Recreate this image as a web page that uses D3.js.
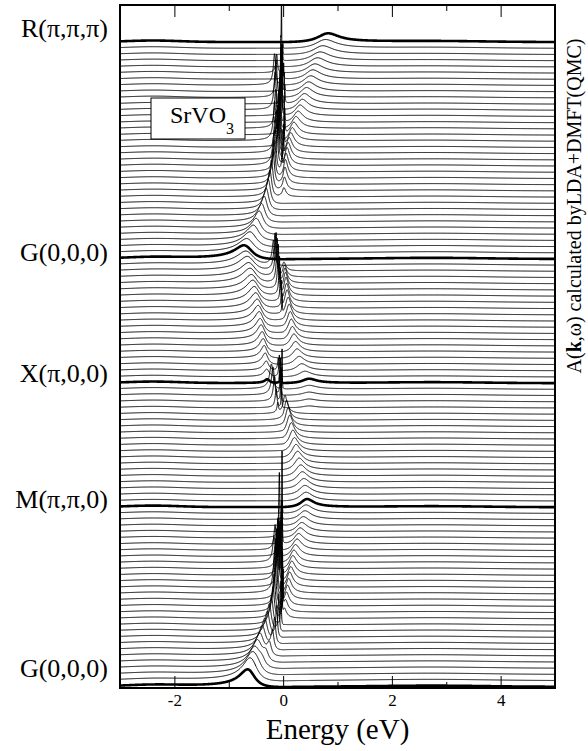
<!DOCTYPE html>
<html>
<head>
<meta charset="utf-8">
<script src="https://cdn.jsdelivr.net/npm/d3@7"></script>
<style>
  body { margin: 0; background: #fff; }
  svg text { font-family: "Liberation Serif", "Times New Roman", serif; fill: #000; }
</style>
</head>
<body>
<svg width="588" height="751"></svg>
<script>
// k-path labels, bottom to top, and the curve index they sit on
const kLabels = ["G(0,0,0)", "M(\u03c0,\u03c0,0)", "X(\u03c0,0,0)", "G(0,0,0)", "R(\u03c0,\u03c0,\u03c0)"];
const kIndex = [0, 29, 49, 69, 104];
const nCurves = 105;

const xTicks = [-2, 0, 2, 4];
const xMinor = [-1, 1, 3];

// occupied quasiparticle peak: energy (eV) and height (in units of curve spacing)
const occE = [
  -0.70, -0.66, -0.61, -0.56, -0.50, -0.45, -0.40, -0.35, -0.30, -0.26,   // 0-9   G -> M
  -0.22, -0.19, -0.17, -0.15, -0.13, -0.12, -0.11, -0.10, -0.09, -0.08,   // 10-19
  -0.06, -0.05, -0.045, -0.02, -0.07, -0.03, -0.025, -0.02, -0.015, 0,    // 20-29 (M)
  0, 0, 0, 0, 0, 0, 0, 0, 0, 0,                                           // 30-39 M -> X
  0, 0, 0, 0, -0.10, -0.13, -0.16, -0.19, -0.22, -0.30,                   // 40-49 (X)
  -0.31, -0.32, -0.34, -0.36, -0.38, -0.40, -0.42, -0.44, -0.46, -0.48,   // 50-59 X -> G
  -0.50, -0.53, -0.56, -0.59, -0.62, -0.65, -0.68, -0.71, -0.74, -0.78,   // 60-69 (G)
  -0.72, -0.65, -0.58, -0.52, -0.46, -0.41, -0.36, -0.32, -0.28, -0.25,   // 70-79 G -> R
  -0.22, -0.19, -0.17, -0.15, -0.12, -0.10, -0.09, -0.08, -0.07, -0.06,   // 80-89
  -0.055, -0.05, -0.045, -0.04, -0.035, -0.03, -0.03, -0.025, -0.02, -0.02, // 90-99
  -0.015, -0.01, -0.01, -0.005, 0                                         // 100-104 (R)
];
const occH = [
  2.7, 2.8, 2.9, 3.0, 3.2, 3.4, 3.6, 3.8, 4.0, 4.3,
  4.6, 5.0, 6.0, 7.0, 8.0, 9.0, 9.0, 9.0, 9.0, 7.5,
  6.5, 5.5, 4.5, 15, 10.5, 5.0, 4.0, 3.0, 2.0, 0,
  0, 0, 0, 0, 0, 0, 0, 0, 0, 0,
  0, 0, 0, 0, 1.5, 3.0, 4.0, 4.5, 4.0, 0.6,
  1.2, 1.5, 1.8, 2.0, 2.1, 2.2, 2.3, 2.3, 2.4, 2.4,
  2.4, 2.4, 2.4, 2.4, 2.3, 2.3, 2.2, 2.2, 2.1, 2.1,
  2.2, 2.3, 2.4, 2.5, 2.7, 2.9, 3.1, 3.4, 3.8, 4.2,
  4.8, 5.5, 6.0, 7.0, 8.0, 8.5, 9.0, 9.0, 9.0, 9.0,
  9.0, 9.0, 9.0, 9.0, 8.5, 8.0, 7.5, 6.5, 5.5, 4.5,
  3.5, 2.5, 1.5, 0.8, 0
];

// second sharp peak close to the Fermi level
const fsE = [
  0, -0.60, -0.50, -0.41, -0.33, -0.26, -0.20, -0.16, -0.12, -0.08,
  -0.04, -0.02, 0.0, -0.01, -0.03, -0.16, -0.05, -0.14, -0.02, -0.12,
  -0.17, -0.10, -0.15, 0, 0, 0, 0, 0, 0, 0,
  0, 0, 0, 0, 0, 0, 0, 0, 0, 0,
  0, 0, 0, 0, 0, -0.03, -0.04, -0.05, -0.02, -0.05,
  -0.07, -0.09, 0, 0, 0, 0, 0, 0, 0, 0,
  -0.02, -0.03, -0.05, -0.07, -0.09, -0.11, -0.13, -0.15, -0.18, 0,
  0, 0, 0, 0, 0, 0, 0, 0, 0, 0,
  0, 0, 0, -0.02, -0.17, 0.01, -0.15, 0.02, -0.16, 0.03,
  -0.14, 0.02, -0.03, -0.15, 0.03, -0.13, 0.02, -0.16, 0.01, -0.12,
  0, 0, 0, 0, 0
];
const fsH = [
  0, 0.8, 1.0, 1.2, 1.5, 2.0, 3.0, 4.0, 5.0, 6.0,
  7.0, 7.5, 6.0, 8.0, 9.0, 5.0, 9.0, 5.0, 8.0, 5.0,
  4.0, 5.0, 4.0, 0, 0, 0, 0, 0, 0, 0,
  0, 0, 0, 0, 0, 0, 0, 0, 0, 0,
  0, 0, 0, 0, 0, 5.0, 5.5, 6.0, 6.5, 2.0,
  3.5, 2.0, 0, 0, 0, 0, 0, 0, 0, 0,
  3.0, 4.0, 5.0, 6.0, 7.0, 7.0, 7.0, 6.0, 4.0, 0,
  0, 0, 0, 0, 0, 0, 0, 0, 0, 0,
  0, 0, 0, 6.0, 4.0, 5.0, 5.0, 4.0, 6.0, 4.0,
  6.0, 4.0, 20, 6.0, 3.0, 6.0, 3.0, 5.0, 2.5, 3.0,
  0, 0, 0, 0, 0
];

// unoccupied peak above the Fermi level
const unE = [
  0, 0, 0, 0, 0, 0, 0, 0, 0, 0,
  0, 0.03, 0.05, 0.07, 0.09, 0.11, 0.13, 0.15, 0.17, 0.19,
  0.21, 0.24, 0.27, 0.30, 0.33, 0.36, 0.39, 0.42, 0.44, 0.46,
  0.44, 0.42, 0.40, 0.37, 0.34, 0.31, 0.28, 0.25, 0.22, 0.19,
  0.16, 0.13, 0.10, 0.07, 0.04, 0.50, 0.50, 0.50, 0.50, 0.50,
  0.42, 0.36, 0.31, 0.27, 0.24, 0.21, 0.18, 0.16, 0.14, 0.12,
  0.10, 0.08, 0.07, 0.06, 0.05, 0.04, 0.03, 0.02, 0, 0,
  0, 0, 0, 0, 0, 0, 0, 0, 0, 0.02,
  0.03, 0.04, 0.05, 0.06, 0.08, 0.10, 0.12, 0.15, 0.18, 0.21,
  0.25, 0.29, 0.33, 0.37, 0.41, 0.45, 0.49, 0.53, 0.57, 0.61,
  0.66, 0.71, 0.76, 0.81, 0.86
];
const unH = [
  0, 0, 0, 0, 0, 0, 0, 0, 0, 0,
  0, 1.6, 2.0, 2.2, 2.3, 2.4, 2.4, 2.3, 2.2, 2.1,
  2.0, 1.9, 1.8, 1.7, 1.6, 1.5, 1.45, 1.4, 1.35, 1.3,
  1.4, 1.5, 1.6, 1.7, 1.8, 1.9, 2.0, 2.1, 2.2, 2.4,
  2.6, 2.8, 3.0, 3.2, 3.0, 0.3, 0.4, 0.5, 0.6, 0.7,
  0.9, 1.1, 1.3, 1.5, 1.7, 1.9, 2.1, 2.3, 2.5, 2.7,
  2.8, 3.0, 3.0, 3.0, 2.8, 2.5, 2.0, 1.5, 0, 0,
  0, 0, 0, 0, 0, 0, 0, 0, 0, 1.5,
  2.2, 2.8, 3.0, 3.0, 2.9, 2.7, 2.5, 2.3, 2.1, 2.0,
  1.9, 1.8, 1.75, 1.7, 1.65, 1.6, 1.55, 1.5, 1.5, 1.45,
  1.45, 1.4, 1.4, 1.4, 1.4
];

// faint Hubbard bands present in every curve
const hubE = [-2.4, 2.8];
const hubH = [0.25, 0.15];
const hubW = [0.5, 0.9];

// dimensions
const margin = {top: 5, right: 33, bottom: 63, left: 120};
const width = 588 - margin.left - margin.right;
const height = 751 - margin.top - margin.bottom;

const svg = d3.select("svg");
const g = svg.append("g")
    .attr("transform", `translate(${margin.left},${margin.top})`);

const x = d3.scaleLinear().domain([-3, 5]).range([0, width]);
const y = d3.scaleLinear().domain([-0.15, 110]).range([height, 0]);

// widths grow away from the Fermi level
const gOcc = w => 0.003 + 0.1 * Math.abs(w) + 0.3 * w * w;
const gUn = w => 0.04 + 0.25 * Math.abs(w);
const peak = (w, e, h, gw) => h === 0 ? 0 : h * gw(e) * gw(w) / ((w - e) * (w - e) + gw(w) * gw(w));

// energy sampling, finer near E_F where the peaks are sharp
const grid = [];
for (let e = -3; e < -0.5; e += 0.01) grid.push(e);
for (let e = -0.5; e < 0.5; e += 0.0015) grid.push(e);
for (let e = 0.5; e <= 5.0001; e += 0.01) grid.push(e);

const curves = d3.range(nCurves).map(i => {
  const pts = grid.concat([occE[i], fsE[i], unE[i]]).sort((a, b) => a - b);
  return {
    i,
    thick: kIndex.includes(i),
    values: pts.map(w => {
      let a = peak(w, occE[i], occH[i], gOcc) + peak(w, fsE[i], fsH[i], gOcc) + peak(w, unE[i], unH[i], gUn);
      hubE.forEach((c, j) => { a += hubH[j] * Math.exp(-0.5 * ((w - c) / hubW[j]) ** 2); });
      return [w, i + a];
    })
  };
});

svg.append("defs").append("clipPath").attr("id", "plot")
  .append("rect").attr("width", width).attr("height", height);

const line = d3.line().x(d => x(d[0])).y(d => y(d[1]));

g.append("g").attr("clip-path", "url(#plot)")
  .selectAll("path")
  .data(curves.sort((a, b) => a.thick - b.thick))
  .enter().append("path")
    .attr("d", d => line(d.values))
    .attr("fill", "none")
    .attr("stroke", "#000")
    .attr("stroke-width", d => d.thick ? 2.6 : 1)
    .attr("stroke-linejoin", "round");

// inset box
g.append("rect")
  .attr("x", 31).attr("y", 93).attr("width", 94).attr("height", 41)
  .attr("fill", "#fff").attr("stroke", "#000").attr("stroke-width", 1);
const inset = g.append("text").attr("x", 50).attr("y", 118).style("font-size", "24px");
inset.append("tspan").text("SrVO");
inset.append("tspan").attr("dy", 11).style("font-size", "16px").text("3");

// x-axis ticks, inward on bottom and top
const tickFmt = d => String(d);
g.append("g").attr("class", "axis").attr("transform", `translate(0,${height})`)
  .call(d3.axisBottom(x).tickValues(xTicks).tickSize(-12).tickPadding(6).tickFormat(tickFmt));
g.append("g").attr("class", "axis minor").attr("transform", `translate(0,${height})`)
  .call(d3.axisBottom(x).tickValues(xMinor).tickSize(-6));
g.append("g").attr("class", "axis minor")
  .call(d3.axisTop(x).tickValues(xTicks).tickSize(-12));
g.append("g").attr("class", "axis minor")
  .call(d3.axisTop(x).tickValues(xMinor).tickSize(-6));
g.selectAll(".axis.minor text").remove();
g.selectAll(".axis .domain").remove();
g.selectAll(".axis").attr("font-family", null).attr("font-size", null);
g.selectAll(".axis line").attr("stroke", "#000").attr("stroke-width", 1);
g.selectAll(".axis text").style("font-size", "17px");

// frame
g.append("rect")
  .attr("width", width).attr("height", height)
  .attr("fill", "none").attr("stroke", "#000").attr("stroke-width", 2);

// k labels
const labelDy = [-10, 1, -1, 2, -5];
g.selectAll(".klabel")
  .data(kLabels)
  .enter().append("text")
    .attr("class", "klabel")
    .attr("x", -12)
    .attr("y", (d, j) => y(kIndex[j]) + labelDy[j])
    .attr("text-anchor", "end")
    .style("font-size", "26px")
    .text(d => d);

// x-axis label
g.append("text")
  .attr("x", x(1))
  .attr("y", height + 51)
  .attr("text-anchor", "middle")
  .style("font-size", "29px")
  .text("Energy (eV)");

// right-hand label
const rl = svg.append("text")
  .attr("transform", "translate(581,206) rotate(-90)")
  .attr("text-anchor", "middle")
  .style("font-size", "20px");
rl.append("tspan").text("A(");
rl.append("tspan").style("font-weight", "bold").text("k");
rl.append("tspan").text(",\u03c9) calculated byLDA+DMFT(QMC)");
</script>
</body>
</html>
